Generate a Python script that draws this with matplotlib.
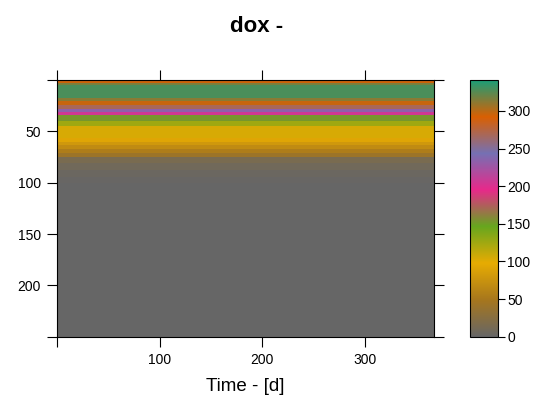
import numpy as np
import matplotlib
matplotlib.use("Agg")
import matplotlib.pyplot as plt
import matplotlib.colors as mcolors

plt.rcParams['font.family'] = ['Liberation Sans', 'DejaVu Sans']

# depth layers (m) - top/bottom edges, and dox value in each layer
depth_edges = [0, 3, 5, 18, 20, 24, 28, 31, 34, 40, 45, 56, 60, 63, 67, 71,
               75, 81, 88, 94, 100, 250]
dox = [295, 316, 328, 312, 297, 268, 232, 205, 152, 125, 103, 92, 80, 68, 55,
       42, 15, 8, 4, 2, 0]
# time span (days), profile constant in time
time_edges = [0, 367]

# Dark2 palette reversed
dark2_rev = ["#666666", "#A6761D", "#E6AB02", "#66A61E",
             "#E7298A", "#7570B3", "#D95F02", "#1B9E77"]
cmap = mcolors.LinearSegmentedColormap.from_list("dark2r", dark2_rev, N=256)
vmin, vmax = 0, 341

W, H = 543, 405
fig = plt.figure(figsize=(W / 100, H / 100), dpi=100)
ax = fig.add_axes([57.3 / W, 1 - 336.7 / H, 376.4 / W, 256.7 / H])
cax = fig.add_axes([470 / W, 1 - 336.7 / H, 27.7 / W, 256.7 / H])

Z = np.array(dox, dtype=float)[:, None]
mesh = ax.pcolormesh(time_edges, depth_edges, Z, cmap=cmap, vmin=vmin, vmax=vmax,
                     shading='flat')
ax.set_xlim(0, 367)
ax.set_ylim(250, 0)

ax.set_xticks([0, 100, 200, 300])
ax.set_xticklabels(["", "100", "200", "300"])
ax.set_yticks([0, 50, 100, 150, 200, 250])
ax.set_yticklabels(["", "50", "100", "150", "200", ""])
ax.tick_params(direction='out', length=7, width=0.8, labelsize=10, pad=5,
               top=True, right=True, labeltop=False, labelright=False)
for s in ax.spines.values():
    s.set_linewidth(0.8)

ax.set_xlabel("Time - [d]", fontsize=13.5, labelpad=8)

cb = fig.colorbar(mesh, cax=cax)
cb.set_ticks([0, 50, 100, 150, 200, 250, 300])
cb.ax.tick_params(direction='out', length=5, width=0.8, labelsize=10, pad=2)
cb.outline.set_linewidth(0.8)

fig.text(257 / W, 1 - 27 / H, "dox -", ha='center', va='center',
         fontsize=16, fontweight='bold')

fig.savefig("out.png", dpi=100)
